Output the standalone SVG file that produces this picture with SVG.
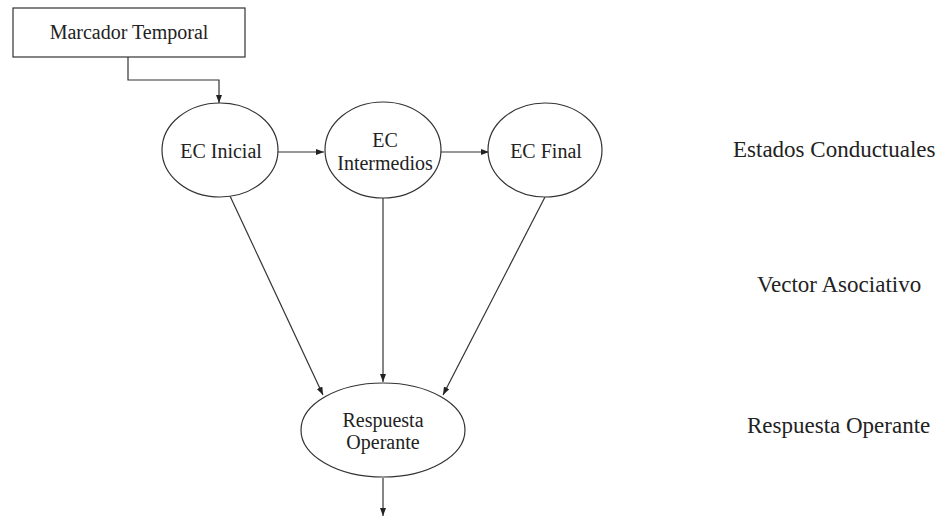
<svg xmlns="http://www.w3.org/2000/svg" width="949" height="517" viewBox="0 0 949 517">
<style>
.shape{fill:#fff;stroke:#333;stroke-width:1.2}
.lbl{font-size:20px;fill:#222;text-anchor:middle}
.side{font-size:23px;fill:#222}
.conn{fill:none;stroke:#333;stroke-width:1.2;marker-end:url(#arr)}
</style>
<defs>
<marker id="arr" viewBox="0 0 8 6" refX="8" refY="3" markerWidth="8" markerHeight="6" markerUnits="userSpaceOnUse" orient="auto">
<path d="M0,0 L8,3 L0,6 Z" fill="#222"/>
</marker>
</defs>
<rect width="949" height="517" fill="#fff"/>
<g id="connectors">
<path class="conn" d="M128,57 V80 H219 V103"/>
<path class="conn" d="M278,152 H324"/>
<path class="conn" d="M441,152 H489"/>
<path class="conn" d="M230,196 L323,395"/>
<path class="conn" d="M383,198 V382"/>
<path class="conn" d="M545,197 L443,395"/>
<path class="conn" d="M383,478 V516"/>
</g>
<g font-family="Liberation Serif, Tinos, Times New Roman, DejaVu Serif, serif">
<g id="marcador">
<rect class="shape" x="13" y="8" width="232" height="49"/>
<text class="lbl" x="129" y="39">Marcador Temporal</text>
</g>
<g id="ec-inicial">
<ellipse class="shape" cx="220" cy="150" rx="58" ry="47"/>
<text class="lbl" x="221" y="158">EC Inicial</text>
</g>
<g id="ec-intermedios">
<ellipse class="shape" cx="383" cy="150" rx="58" ry="48"/>
<text class="lbl" x="385" y="147">EC</text>
<text class="lbl" x="385" y="170">Intermedios</text>
</g>
<g id="ec-final">
<ellipse class="shape" cx="545" cy="150" rx="57" ry="47"/>
<text class="lbl" x="546" y="158">EC Final</text>
</g>
<g id="respuesta">
<ellipse class="shape" cx="383" cy="430" rx="82" ry="47"/>
<text class="lbl" x="383" y="427">Respuesta</text>
<text class="lbl" x="383" y="449">Operante</text>
</g>
<g id="side-labels">
<text class="side" x="733" y="157">Estados Conductuales</text>
<text class="side" x="757" y="292">Vector Asociativo</text>
<text class="side" x="747" y="433">Respuesta Operante</text>
</g>
</g>
</svg>
